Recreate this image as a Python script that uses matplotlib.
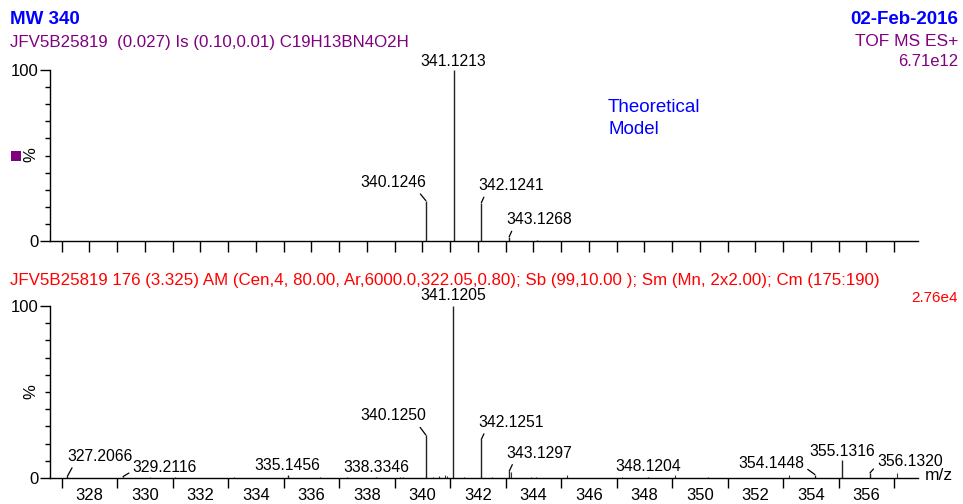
import numpy as np
import matplotlib
matplotlib.use("Agg")
import matplotlib.pyplot as plt
from matplotlib.patches import Rectangle

plt.rcParams["font.family"] = ["Liberation Sans", "DejaVu Sans"]

# ------------------------------------------------------------
# data
# ------------------------------------------------------------

# theoretical isotope model (top trace)
theo_mz = [340.1246, 341.1213, 342.1241, 343.1268, 344.1300]
theo_int = [23.6, 100.0, 22.4, 2.5, 0.3]
theo_labels = ["340.1246", "341.1213", "342.1241", "343.1268", None]

# measured spectrum, labelled centroids (bottom trace)
meas_mz = [327.2066, 329.2116, 335.1456, 338.3346, 340.1250, 341.1205,
           342.1251, 343.1297, 348.1204, 354.1448, 355.1316, 356.1320]
meas_int = [1.0, 0.8, 1.8, 0.8, 25.0, 100.0,
            22.5, 4.0, 0.8, 2.0, 10.3, 3.0]
meas_labels = ["327.2066", "329.2116", "335.1456", "338.3346", "340.1250",
               "341.1205", "342.1251", "343.1297", "348.1204", "354.1448",
               "355.1316", "356.1320"]

# small unlabelled centroids / noise in the measured trace
noise_mz = [330.2, 331.1, 333.2, 336.3, 337.3, 339.2, 339.3, 340.4, 340.6,
            340.8, 340.9, 341.5, 342.5, 343.2, 343.9, 344.1, 345.2, 347.2,
            349.1, 350.3, 353.2, 357.1]
noise_int = [0.4, 0.7, 0.3, 0.4, 0.4, 0.6, 0.8, 0.8, 1.0,
             1.5, 1.2, 0.5, 0.4, 3.5, 0.6, 0.8, 1.8, 0.4,
             1.8, 0.3, 1.5, 2.8]

XMIN, XMAX = 326.58, 357.86

# label placement: (dx, dy) in pixels from the peak top, leader relpos or None
theo_label_pos = [(-33, 18, (0.87, 0.0)), (0, 9, None), (30, 17, (0.11, 0.0)),
                  (30, 17, (0.11, 0.0)), None]
meas_label_pos = [(33, 20, (0.1, 0.0)), (42, 9, (0.0, 0.3)), (0, 9, None),
                  (0, 9, None), (-33, 19, (0.87, 0.0)), (0, 10, None),
                  (30, 17, (0.11, 0.0)), (30, 18, (0.12, 0.0)), (0, 10, None),
                  (-44, 11, (1.0, 0.3)), (0, 9, None), (40, 11, (0.0, 0.3))]

W, H = 963, 504
fig = plt.figure(figsize=(W / 100, H / 100), dpi=100)


def px(x, y):
    return x / W, 1 - y / H


def style_axis(ax, odd_ticks_only):
    ax.set_xlim(XMIN, XMAX)
    ax.set_ylim(0, 100)
    for s in ("top", "right"):
        ax.spines[s].set_visible(False)
    for s in ("left", "bottom"):
        ax.spines[s].set_linewidth(1.0)
    ax.set_yticks([0, 100])
    ax.set_yticklabels(["0", "100"])
    ax.set_yticks(np.arange(10, 100, 10), minor=True)
    ax.tick_params(axis="y", which="major", length=7, width=1, pad=1,
                   labelsize=12)
    ax.tick_params(axis="y", which="minor", length=3.5, width=1)
    if odd_ticks_only:
        ax.set_xticks(np.arange(328, 357, 2))
        ax.set_xticks(np.arange(327, 358, 2), minor=True)
        ax.tick_params(axis="x", which="major", length=0, pad=7, labelsize=12)
        ax.tick_params(axis="x", which="minor", length=7, width=1)
    else:
        ax.set_xticks(np.arange(327, 358, 1))
        ax.tick_params(axis="x", which="major", length=8, width=1,
                       labelbottom=False)


def draw_labels(ax, mz, inten, labels, positions):
    for m, h, lab, pos in zip(mz, inten, labels, positions):
        if lab is None or pos is None:
            continue
        dx, dy, rel = pos
        kw = dict(xy=(m, h), xytext=(dx, dy), textcoords="offset pixels",
                  ha="center", va="center", fontsize=11.3,
                  annotation_clip=False)
        if rel is not None:
            kw["arrowprops"] = dict(arrowstyle="-", lw=0.9, color="black",
                                    shrinkA=1, shrinkB=0, relpos=rel)
        ax.annotate(lab, **kw)


# ------------------------------------------------------------
# top: theoretical model
# ------------------------------------------------------------
ax1 = fig.add_axes([50 / W, 1 - 241 / H, 868 / W, 171 / H])
ax1.vlines(theo_mz, 0, theo_int, color="#222222", lw=1.0, clip_on=False)
style_axis(ax1, odd_ticks_only=False)
draw_labels(ax1, theo_mz, theo_int, theo_labels, theo_label_pos)
ax1.text(*px(608, 108), "Theoretical", transform=fig.transFigure,
         color="#0000ff", fontsize=13.5, ha="left", va="center")
ax1.text(*px(608, 130), "Model", transform=fig.transFigure,
         color="#0000ff", fontsize=13.5, ha="left", va="center")

# ------------------------------------------------------------
# bottom: measured spectrum
# ------------------------------------------------------------
ax2 = fig.add_axes([50 / W, 1 - 478 / H, 868 / W, 172 / H])
ax2.vlines(noise_mz, 0, noise_int, color="#333333", lw=0.8)
ax2.vlines(meas_mz, 0, meas_int, color="#222222", lw=1.0, clip_on=False)
style_axis(ax2, odd_ticks_only=True)
draw_labels(ax2, meas_mz, meas_int, meas_labels, meas_label_pos)

# ------------------------------------------------------------
# header texts
# ------------------------------------------------------------
blue = "#0000ff"
purple = "#800080"
red = "#ff0000"

fig.text(*px(10, 19), "MW 340", color=blue, fontsize=13.5, fontweight="bold",
         ha="left", va="center")
fig.text(*px(958, 19), "02-Feb-2016", color=blue, fontsize=13.5,
         fontweight="bold", ha="right", va="center")
fig.text(*px(10, 42), "JFV5B25819  (0.027) Is (0.10,0.01) C19H13BN4O2H",
         color=purple, fontsize=12.2, ha="left", va="center")
fig.text(*px(958, 42), "TOF MS ES+", color=purple, fontsize=12.5,
         ha="right", va="center")
fig.text(*px(958, 62), "6.71e12", color=purple, fontsize=12,
         ha="right", va="center")

fig.text(*px(10, 281),
         "JFV5B25819 176 (3.325) AM (Cen,4, 80.00, Ar,6000.0,322.05,0.80); "
         "Sb (99,10.00 ); Sm (Mn, 2x2.00); Cm (175:190)",
         color=red, fontsize=12.2, ha="left", va="center")
fig.text(*px(958, 298), "2.76e4", color=red, fontsize=11,
         ha="right", va="center")

fig.text(*px(31, 155), "%", rotation=90, fontsize=12, ha="center",
         va="center")
fig.text(*px(31, 392), "%", rotation=90, fontsize=12, ha="center",
         va="center")
fig.text(*px(925, 476), "m/z", fontsize=12.5, ha="left", va="center")

fig.patches.append(Rectangle(px(11, 161), 10 / W, 10 / H,
                             transform=fig.transFigure, facecolor=purple,
                             edgecolor="none"))

fig.savefig("out.png", dpi=100)
